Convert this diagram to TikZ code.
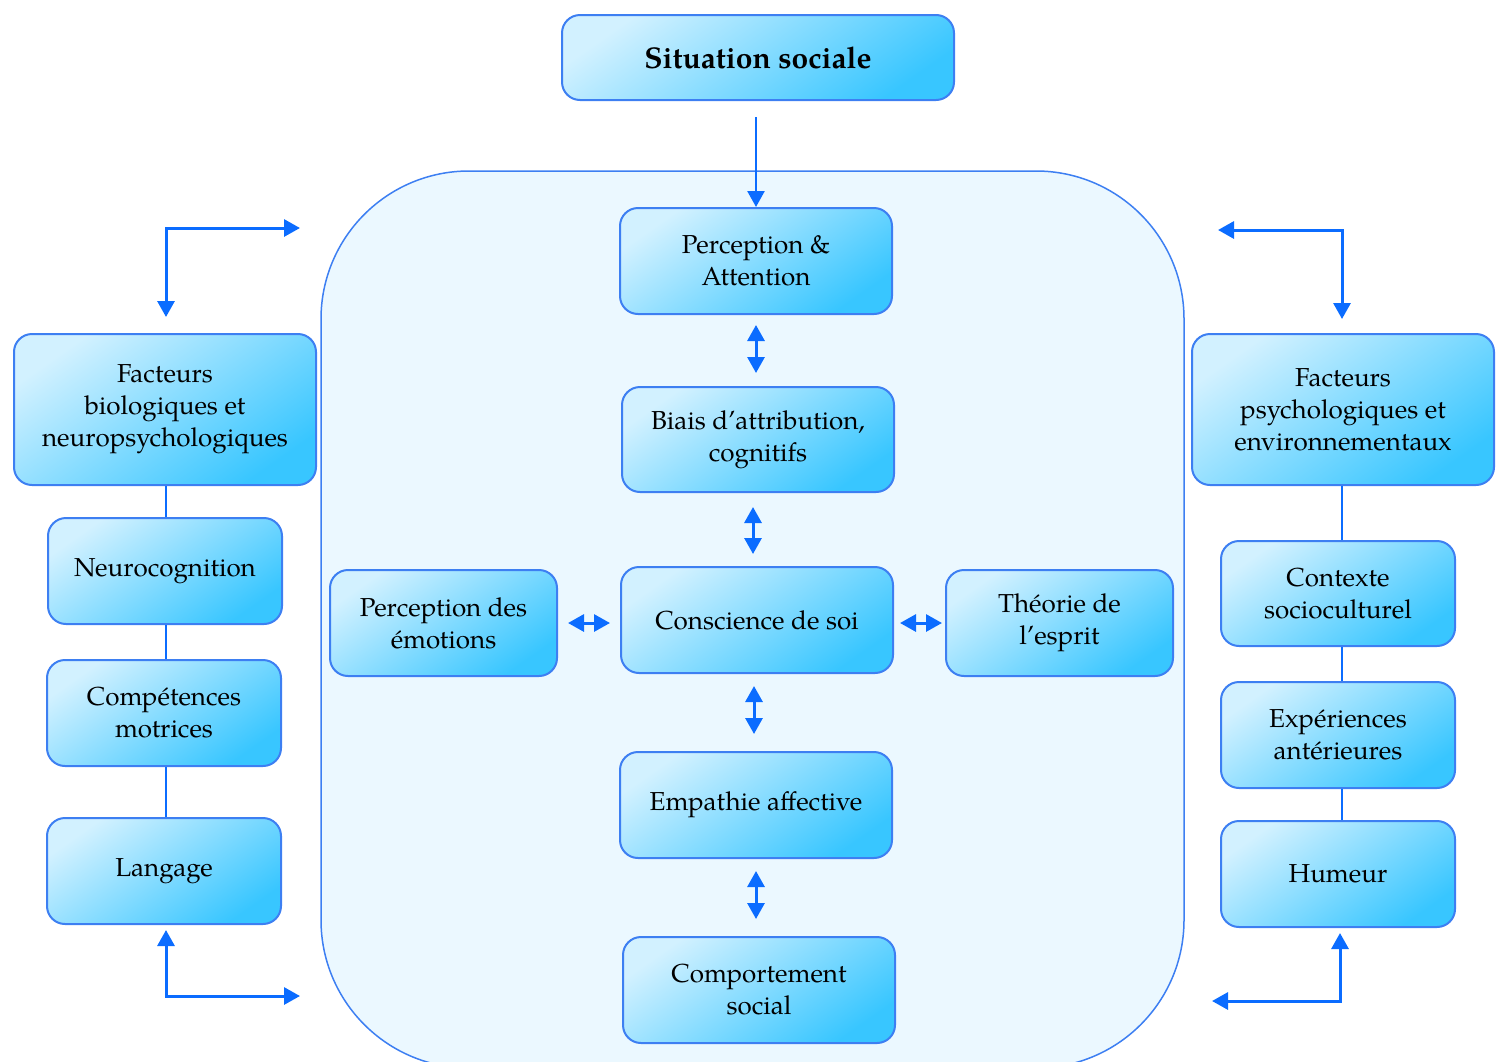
\documentclass[tikz,border=0pt]{standalone}
\usepackage{fontspec}
\setmainfont{TeX Gyre Pagella}
\usetikzlibrary{arrows.meta,calc}
\definecolor{boxlight}{HTML}{D2F1FF}
\definecolor{boxdark}{HTML}{38C6FF}
\definecolor{boxline}{HTML}{3D7FF2}
\definecolor{arrblue}{HTML}{0B6CFF}
\definecolor{bgfill}{HTML}{EBF8FF}
\begin{document}
\begin{tikzpicture}[x=1pt,y=-1pt,
  box/.style={rectangle, rounded corners=18pt, draw=boxline, line width=2pt,
    top color=boxlight, bottom color=boxdark, shading angle=35,
    align=center, inner sep=0pt, font=\fontsize{26}{32}\selectfont},
  smallbox/.style={box, minimum width=234pt, minimum height=106pt},
  midbox/.style={box, minimum width=272pt, minimum height=106pt},
  bigbox/.style={box, minimum width=302pt, minimum height=151pt},
  sidebox/.style={box, minimum width=227pt, minimum height=106pt},
  dbl/.style={draw=arrblue, line width=3pt,
    {Triangle[length=16pt,width=17pt]}-{Triangle[length=16pt,width=17pt]}},
  arr/.style={draw=arrblue, line width=2.5pt, -{Triangle[length=16pt,width=17pt]}},
  link/.style={draw=arrblue, line width=2pt}]
\useasboundingbox (0,0) rectangle (1501,1061);
\clip (0,0) rectangle (1501,1061);
% container
\draw[draw=boxline, line width=1.5pt, fill=bgfill, rounded corners=148pt]
  (321,1068) rectangle (1184,171);
% top box
\node[box, minimum width=392pt, minimum height=85pt,
  font=\fontsize{30}{34}\selectfont\bfseries] (sit) at (758,57.5) {Situation sociale};
% centre column
\node[midbox] (perc) at (756,261) {Perception \&\\Attention};
\node[midbox, minimum height=105pt] (biais) at (758,439.5) {Biais d’attribution,\\cognitifs};
\node[midbox] (consc) at (757,620) {Conscience de soi};
\node[sidebox] (pemo) at (443.5,623) {Perception des\\émotions};
\node[sidebox] (theo) at (1059.5,623) {Théorie de\\l’esprit};
\node[midbox] (emp) at (756,805) {Empathie affective};
\node[midbox] (comp) at (759,990) {Comportement\\social};
% left column
\node[bigbox] (fbio) at (165,409.5) {Facteurs\\biologiques et\\neuropsychologiques};
\node[smallbox] (neuro) at (165,571) {Neurocognition};
\node[smallbox] (compet) at (164,713) {Compétences\\motrices};
\node[smallbox] (lang) at (164,871) {Langage};
% right column
\node[bigbox] (fpsy) at (1343,409.5) {Facteurs\\psychologiques et\\environnementaux};
\node[smallbox, minimum height=105pt] (ctx) at (1338,593.5) {Contexte\\socioculturel};
\node[smallbox] (exp) at (1338,735) {Expériences\\antérieures};
\node[smallbox] (hum) at (1338,874) {Humeur};
% arrows in the centre
\draw[arr, shorten <=16pt] (perc.north |- sit.south) -- (perc.north);
\draw[dbl, shorten <=10pt, shorten >=13pt] (perc.south) -- (perc.south |- biais.north);
\draw[dbl, shorten <=14pt, shorten >=12pt] ([xshift=-5pt]biais.south) -- ([xshift=-5pt]biais.south |- consc.north);
\draw[dbl, shorten <=12pt, shorten >=17pt] ([xshift=-3pt]consc.south) -- ([xshift=-3pt]consc.south |- emp.north);
\draw[dbl, shorten <=12pt, shorten >=17pt] (emp.south) -- (emp.south |- comp.north);
\draw[dbl, shorten <=10pt, shorten >=10pt] (pemo.east) -- (pemo.east -| consc.west);
\draw[dbl, shorten <=6pt, shorten >=3pt] (theo.west -| consc.east) -- (theo.west);
% left links
\draw[link] ([xshift=1pt]fbio.south) -- ([xshift=1pt]fbio.south |- neuro.north);
\draw[link] ([xshift=1pt]neuro.south) -- ([xshift=1pt]neuro.south |- compet.north);
\draw[link] ([xshift=2pt]compet.south) -- ([xshift=2pt]compet.south |- lang.north);
% right links
\draw[link] ([xshift=-1pt]fpsy.south) -- ([xshift=-1pt]fpsy.south |- ctx.north);
\draw[link] ([xshift=4pt]ctx.south) -- ([xshift=4pt]ctx.south |- exp.north);
\draw[link] ([xshift=4pt]exp.south) -- ([xshift=4pt]exp.south |- hum.north);
% loop arrows
\coordinate (ltop) at (300,228);
\coordinate (lbot) at (300,996);
\coordinate (rtop) at (1218,230);
\coordinate (rbot) at (1212,1001);
\draw[dbl, shorten >=16pt] (ltop) -| ([xshift=1pt]fbio.north);
\draw[dbl, shorten >=5pt] (lbot) -| ([xshift=2pt]lang.south);
\draw[dbl, shorten >=14pt] (rtop) -| ([xshift=-1pt]fpsy.north);
\draw[dbl, shorten >=5pt] (rbot) -| ([xshift=2pt]hum.south);
\end{tikzpicture}
\end{document}
